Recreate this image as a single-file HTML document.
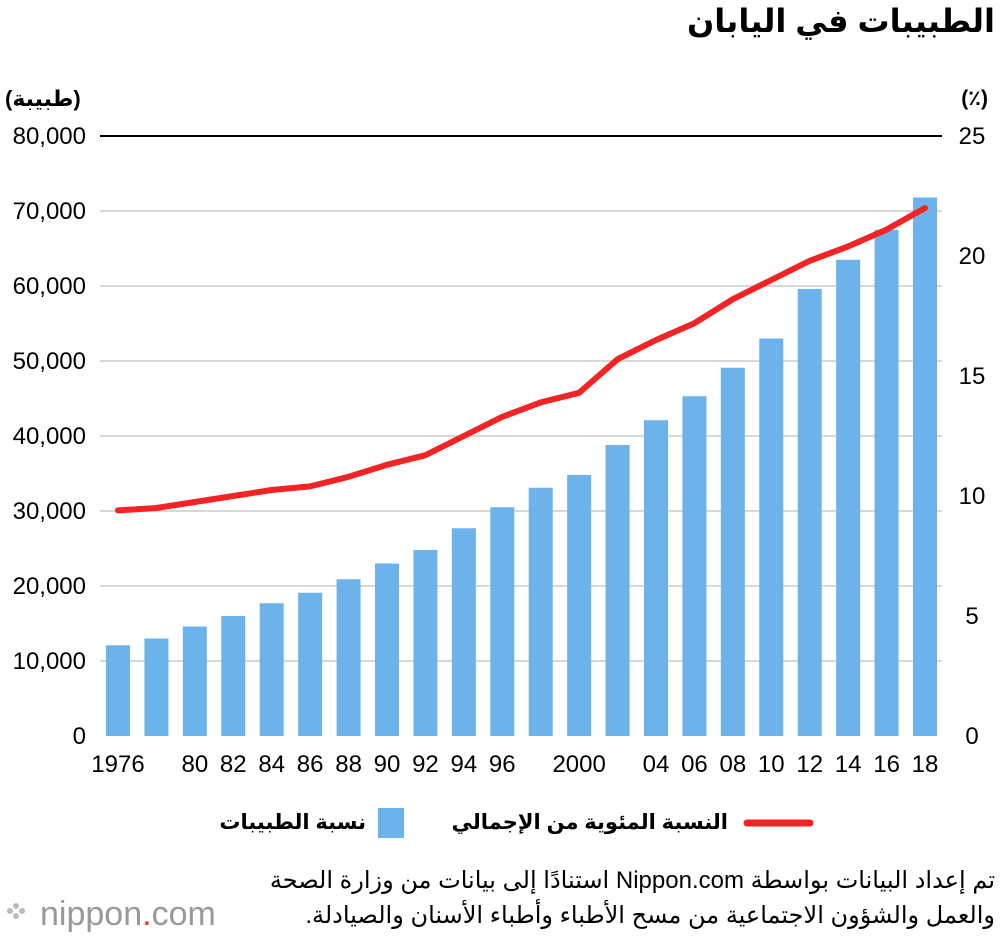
<!DOCTYPE html>
<html><head><meta charset="utf-8"><style>
body{margin:0;background:#fff;width:1000px;height:938px;overflow:hidden;font-family:"Liberation Sans","DejaVu Sans",sans-serif;position:relative}
.ar{position:absolute;direction:rtl;white-space:nowrap;color:#000}
</style></head><body>
<svg id="chart" width="1000" height="938" xmlns="http://www.w3.org/2000/svg" font-family="Liberation Sans, DejaVu Sans, sans-serif" style="position:absolute;left:0;top:0">
<g id="grid"></g><g id="bars"></g><g id="line"></g><g id="axes"></g>
<rect x="378" y="808" width="26" height="30" fill="#6cb3ec"/>
<line x1="747" y1="823" x2="810" y2="823" stroke="#f52323" stroke-width="7" stroke-linecap="round"/>
<g>
<circle cx="16" cy="906" r="3" fill="#bbb"/><circle cx="16" cy="916" r="3" fill="#bbb"/><circle cx="10" cy="911" r="3" fill="#bbb"/><circle cx="22" cy="911" r="3" fill="#bbb"/>
<text x="40" y="925" font-size="34" fill="#999">nippon<tspan fill="#e33">.</tspan>com</text>
</g>
</svg>
<div class="ar" style="right:5px;top:2px;font-size:32px;font-weight:bold">الطبيبات في اليابان</div>
<div class="ar" style="left:5px;top:86px;font-size:22px;font-weight:bold">(طبيبة)</div>
<div class="ar" style="right:12px;top:86px;font-size:21px;font-weight:bold">(٪)</div>
<div class="ar" style="right:634px;top:810px;font-size:21px;font-weight:bold">نسبة الطبيبات</div>
<div class="ar" style="right:272px;top:810px;font-size:21px;font-weight:bold">النسبة المئوية من الإجمالي</div>
<div class="ar" style="right:5px;top:866px;font-size:24px">تم إعداد البيانات بواسطة Nippon.com استنادًا إلى بيانات من وزارة الصحة</div>
<div class="ar" style="right:5px;top:901px;font-size:24px">والعمل والشؤون الاجتماعية من مسح الأطباء وأطباء الأسنان والصيادلة.</div>
<script>
const years=[1976,1978,1980,1982,1984,1986,1988,1990,1992,1994,1996,1998,2000,2002,2004,2006,2008,2010,2012,2014,2016,2018];
const xLabels=["1976","","80","82","84","86","88","90","92","94","96","","2000","","04","06","08","10","12","14","16","18"];
const physicians=[12100,13000,14600,16000,17700,19100,20900,23000,24800,27700,30500,33100,34800,38800,42100,45300,49100,53000,59600,63500,67500,71800];
const percent=[9.4,9.5,9.75,10.0,10.25,10.4,10.8,11.3,11.7,12.5,13.3,13.9,14.3,15.7,16.5,17.2,18.2,19.0,19.8,20.4,21.1,22.0];
const leftTicks=[0,10000,20000,30000,40000,50000,60000,70000,80000];
const rightTicks=[0,5,10,15,20,25];
const NS="http://www.w3.org/2000/svg";
const y0=736,y1=136;
const yL=v=>y0-(v/80000)*(y0-y1);
const yR=v=>y0-(v/25)*(y0-y1);
const xB=i=>118+i*(925-118)/(years.length-1);
function mk(tag,attrs,parent){const e=document.createElementNS(NS,tag);for(const k in attrs)e.setAttribute(k,attrs[k]);parent.appendChild(e);return e;}
const grid=document.getElementById('grid'),axes=document.getElementById('axes'),bars=document.getElementById('bars'),line=document.getElementById('line');
leftTicks.forEach(t=>{
  if(t>0){const g=mk('line',{x1:100,x2:942,y1:yL(t),y2:yL(t),stroke:t===80000?'#000':'#ccc','stroke-width':t===80000?2:1.5},grid);
  
  }
  const tx=mk('text',{x:86,y:yL(t)+8,'text-anchor':'end','font-size':24},axes);tx.textContent=t.toLocaleString('en-US');
  
  
});
rightTicks.forEach(t=>{
  const tx=mk('text',{x:972,y:yR(t)+8,'text-anchor':'middle','font-size':24},axes);tx.textContent=t;
  
  
});
physicians.forEach((v,i)=>{
  const r=mk('rect',{x:xB(i)-12,y:yL(v),width:24,height:y0-yL(v),fill:'#6cb3ec'},bars);
  
  
  if(xLabels[i]){const tx=mk('text',{x:xB(i),y:772,'text-anchor':'middle','font-size':24},axes);tx.textContent=xLabels[i];
  
  }
});
const p=mk('polyline',{points:percent.map((v,i)=>xB(i)+','+yR(v)).join(' '),fill:'none',stroke:'#f52323','stroke-width':6,'stroke-linecap':'round','stroke-linejoin':'round'},line);


</script>
</body></html>
